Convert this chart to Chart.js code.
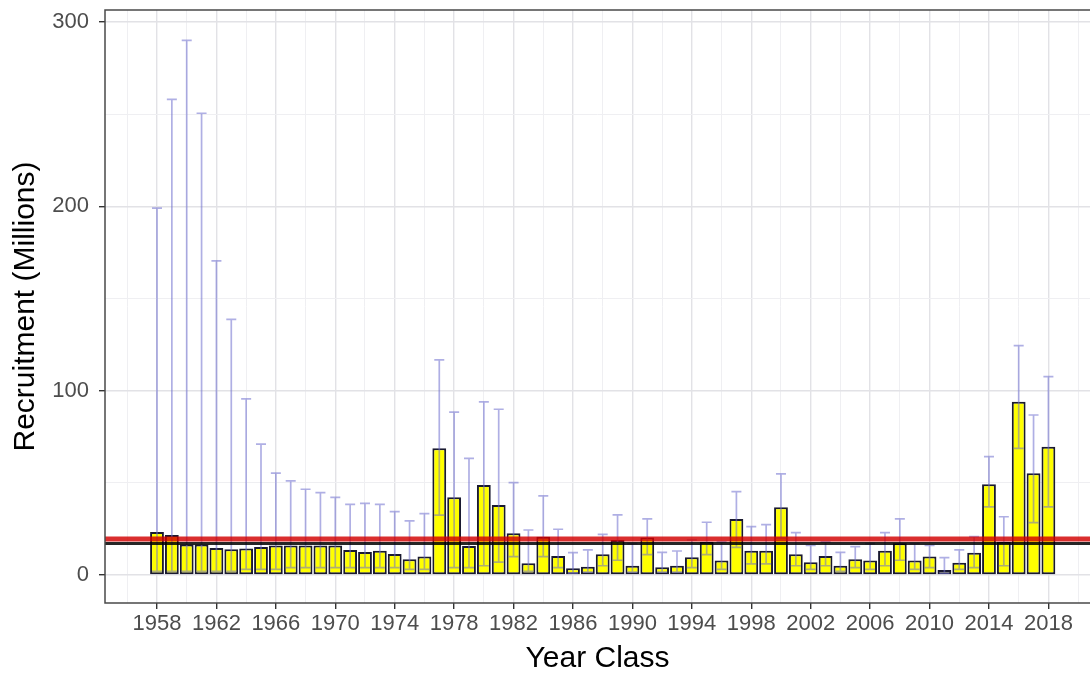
<!DOCTYPE html>
<html>
<head>
<meta charset="utf-8">
<script src="https://cdn.jsdelivr.net/npm/chart.js@4.4.1/dist/chart.umd.min.js"></script>
<style>
  html, body { margin: 0; padding: 0; background: #fff; }
  #wrap { width: 1090px; height: 674px; position: relative; }
</style>
</head>
<body>
<div id="wrap"><canvas id="grafik-rekrutmen"></canvas></div>
<script>
// year classes 1958..2018
const years = [
  1958, 1959, 1960, 1961, 1962, 1963, 1964, 1965, 1966, 1967,
  1968, 1969, 1970, 1971, 1972, 1973, 1974, 1975, 1976, 1977,
  1978, 1979, 1980, 1981, 1982, 1983, 1984, 1985, 1986, 1987,
  1988, 1989, 1990, 1991, 1992, 1993, 1994, 1995, 1996, 1997,
  1998, 1999, 2000, 2001, 2002, 2003, 2004, 2005, 2006, 2007,
  2008, 2009, 2010, 2011, 2012, 2013, 2014, 2015, 2016, 2017,
  2018,
];

// recruitment estimate (millions)
const recruitment = [
  23.3, 21.7, 16.5, 16.5, 14.6, 14.0, 14.4, 15.2, 16.0, 16.0,
  16.0, 16.0, 16.0, 13.6, 12.5, 13.2, 11.4, 8.6, 10.0, 68.7,
  42.2, 15.7, 48.8, 38.0, 22.6, 6.3, 20.8, 10.3, 3.6, 4.5,
  11.2, 19.0, 5.0, 20.4, 4.2, 5.0, 9.6, 18.0, 7.8, 30.4,
  13.2, 13.2, 36.7, 11.2, 6.9, 10.3, 5.0, 8.5, 7.8, 13.2,
  17.2, 7.8, 10.0, 2.7, 6.7, 12.1, 49.2, 18.0, 94.0, 55.2,
  69.6,
];

// upper interval
const upper = [
  199, 258, 290, 250.5, 170.4, 138.7, 95.5, 71, 55.3, 51,
  46.5, 44.7, 42.1, 38.3, 38.9, 38.3, 34.4, 29.3, 33.3, 116.7,
  88.3, 63.3, 93.9, 89.9, 50.1, 24.4, 42.9, 24.8, 12.1, 13.6,
  22, 32.6, 17, 30.4, 12.3, 13, 19, 28.6, 18, 45.2,
  26.2, 27.3, 54.8, 23, 16, 18, 12.3, 15.4, 17, 23,
  30.4, 17, 16, 9.4, 13.6, 20.8, 64.2, 31.6, 124.4, 86.8,
  107.6,
];

// lower interval
const lower = [
  2, 2, 2, 2, 2, 2, 3, 3, 3, 4,
  4, 4, 4, 4, 4, 4, 4, 3, 3, 32.5,
  4, 4, 5, 7, 10, 2, 10, 4, 1, 1.5,
  5, 8, 1.5, 11, 1.5, 1.5, 4, 11, 3, 15,
  6, 6, 20, 5, 3, 5, 2, 4, 3, 5,
  8, 3, 4, 1, 3, 4, 37, 5, 68.7, 28.4,
  37,
];

// reference levels
const garisMerah = 19.5;
const garisHitam = 17.1;

const xTicks = [];
for (let t = 1956; t <= 2020; t += 2) xTicks.push(t);
const xLabels = [1958, 1962, 1966, 1970, 1974, 1978, 1982, 1986, 1990, 1994, 1998, 2002, 2006, 2010, 2014, 2018];
const yTicks = [0, 50, 100, 150, 200, 250, 300];
const yLabels = [0, 100, 200, 300];

const xMin = 1954.5;
const xMax = 2020.8;
const fontFamily = "'Liberation Sans', Arial, Helvetica, sans-serif";

const errorBars = {
    id: "errorBars",
    afterDatasetDraw(chart, args) {
        if (args.index !== 0) return;
        const { ctx, chartArea, scales } = chart;
        ctx.save();
        ctx.beginPath();
        ctx.rect(chartArea.left, chartArea.top, chartArea.right - chartArea.left, chartArea.bottom - chartArea.top);
        ctx.clip();
        ctx.strokeStyle = "rgba(110, 110, 205, 0.55)";
        ctx.lineWidth = 1.7;
        years.forEach((yr, i) => {
            const px = scales.x.getPixelForValue(yr);
            const top = scales.y.getPixelForValue(upper[i]);
            const bot = scales.y.getPixelForValue(lower[i]);
            ctx.beginPath();
            ctx.moveTo(px, bot);
            ctx.lineTo(px, top);
            ctx.moveTo(px - 5, top);
            ctx.lineTo(px + 5, top);
            ctx.moveTo(px - 5, bot);
            ctx.lineTo(px + 5, bot);
            ctx.stroke();
        });
        ctx.restore();
    },
};

const panelBorder = {
    id: "panelBorder",
    afterDraw(chart) {
        const { ctx, chartArea } = chart;
        ctx.save();
        ctx.strokeStyle = "#4a4a4a";
        ctx.lineWidth = 1.5;
        ctx.beginPath();
        ctx.moveTo(chartArea.right, chartArea.top);
        ctx.lineTo(chartArea.left, chartArea.top);
        ctx.lineTo(chartArea.left, chartArea.bottom);
        ctx.lineTo(chartArea.right, chartArea.bottom);
        ctx.stroke();
        ctx.restore();
    },
};

const dataRekrutmen = {
    type: "bar",
    data: {
        datasets: [
            {
                type: "bar",
                label: "Recruitment",
                data: years.map((yr, i) => ({ x: yr, y: recruitment[i] })),
                backgroundColor: "#ffff00",
                borderColor: "#1a1a30",
                borderWidth: 2,
                borderSkipped: false,
                barPercentage: 0.93,
                categoryPercentage: 1,
                order: 2,
            },
            {
                type: "line",
                label: "Red",
                data: [{ x: xMin, y: garisMerah }, { x: xMax, y: garisMerah }],
                borderColor: "rgba(210, 0, 0, 0.82)",
                borderWidth: 5,
                pointRadius: 0,
                order: 1,
            },
            {
                type: "line",
                label: "Black",
                data: [{ x: xMin, y: garisHitam }, { x: xMax, y: garisHitam }],
                borderColor: "rgba(0, 0, 0, 0.85)",
                borderWidth: 3,
                pointRadius: 0,
                order: 0,
            },
        ],
    },
    options: {
        responsive: true,
        maintainAspectRatio: false,
        animation: false,
        layout: { padding: { top: 10, left: 0, right: 0, bottom: 0 } },
        plugins: {
            legend: { display: false },
            tooltip: { enabled: false },
        },
        scales: {
            x: {
                type: "linear",
                offset: false,
                min: xMin,
                max: xMax,
                afterBuildTicks: (s) => { s.ticks = xTicks.map((v) => ({ value: v })); },
                afterFit: (s) => { s.height = 71; s.paddingLeft = 0; s.paddingRight = 0; },
                ticks: {
                    autoSkip: false,
                    maxRotation: 0,
                    padding: 4,
                    color: "#4d4d4d",
                    font: { family: fontFamily, size: 22, lineHeight: 1 },
                    callback: (v) => (xLabels.includes(v) ? String(v) : ""),
                },
                grid: {
                    offset: false,
                    color: (c) => (c.tick && xLabels.includes(c.tick.value) ? "#e2e2e6" : "#efeff2"),
                    lineWidth: (c) => (c.tick && xLabels.includes(c.tick.value) ? 1.4 : 1),
                    tickLength: 6,
                    tickColor: (c) => (c.tick && xLabels.includes(c.tick.value) ? "#333" : "rgba(0,0,0,0)"),
                    tickWidth: 1.4,
                },
                border: { display: false },
                title: {
                    display: true,
                    text: "Year Class",
                    color: "#000",
                    font: { family: fontFamily, size: 30, lineHeight: 1 },
                    padding: { top: 0, bottom: 0 },
                },
            },
            y: {
                type: "linear",
                min: -15.2,
                max: 306.5,
                afterBuildTicks: (s) => { s.ticks = yTicks.map((v) => ({ value: v })); },
                afterFit: (s) => { s.width = 105; s.paddingTop = 0; s.paddingBottom = 0; },
                ticks: {
                    autoSkip: false,
                    padding: 10,
                    color: "#4d4d4d",
                    font: { family: fontFamily, size: 22, lineHeight: 1 },
                    callback: (v) => (yLabels.includes(v) ? String(v) : ""),
                },
                grid: {
                    color: (c) => (c.tick && yLabels.includes(c.tick.value) ? "#e2e2e6" : "#efeff2"),
                    lineWidth: (c) => (c.tick && yLabels.includes(c.tick.value) ? 1.4 : 1),
                    tickLength: 6,
                    tickColor: (c) => (c.tick && yLabels.includes(c.tick.value) ? "#333" : "rgba(0,0,0,0)"),
                    tickWidth: 1.4,
                },
                border: { display: false },
                title: {
                    display: true,
                    text: "Recruitment (Millions)",
                    color: "#000",
                    font: { family: fontFamily, size: 30, lineHeight: 1 },
                    padding: { top: 11, bottom: 0 },
                },
            },
        },
    },
    plugins: [errorBars, panelBorder],
};

new Chart(document.getElementById("grafik-rekrutmen"), dataRekrutmen);
</script>
</body>
</html>
